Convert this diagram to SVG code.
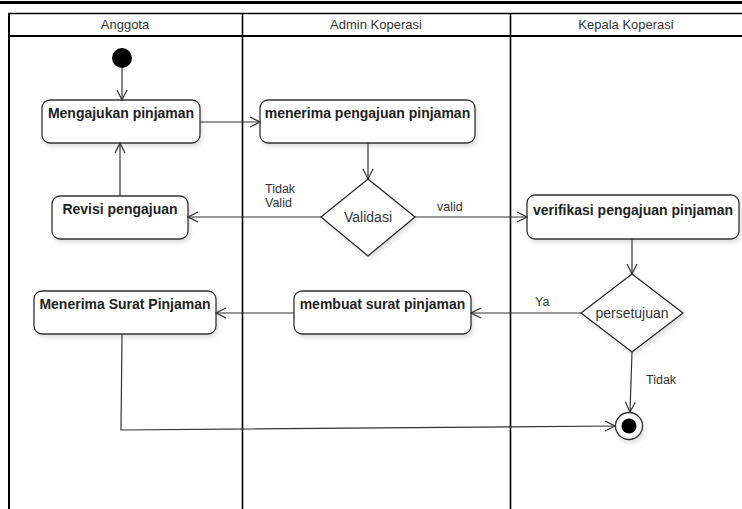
<svg xmlns="http://www.w3.org/2000/svg" width="742" height="509" viewBox="0 0 742 509">
<style>
.lane{stroke:#000;stroke-width:1.6;fill:none}
.hdr{font-family:"Liberation Sans",Arial,sans-serif;font-size:13px;fill:#333;text-anchor:middle}
.box{fill:#fff;stroke:#333;stroke-width:1.3;filter:url(#sh)}
.bt{font-family:"Liberation Sans",Arial,sans-serif;font-size:14px;font-weight:bold;fill:#222;text-anchor:middle}
.dia{fill:#fff;stroke:#222;stroke-width:1.2;filter:url(#sh)}
.dt{font-family:"Liberation Sans",Arial,sans-serif;font-size:14px;fill:#333;text-anchor:middle}
.lbl{font-family:"Liberation Sans",Arial,sans-serif;font-size:12.5px;fill:#333}
.con{stroke:#333;stroke-width:1.2;fill:none;marker-end:url(#ar)}
</style>
<defs>
<filter id="sh" x="-20%" y="-20%" width="150%" height="160%">
<feDropShadow dx="2" dy="3" stdDeviation="2" flood-color="#000" flood-opacity="0.12"/>
</filter>
<marker id="ar" viewBox="0 0 12 12" refX="11" refY="6" markerWidth="12" markerHeight="12" markerUnits="userSpaceOnUse" orient="auto">
<path d="M1,1 L11,6 L1,11" fill="none" stroke="#333" stroke-width="1.2"/>
</marker>
</defs>
<rect width="742" height="509" fill="#fff"/>
<g id="frame">
<line x1="0" y1="2.5" x2="742" y2="2.5" stroke="#000" stroke-width="3"/>
<line x1="8" y1="13.5" x2="742" y2="13.5" stroke="#000" stroke-width="1.5"/>
<line x1="8" y1="36" x2="742" y2="36" stroke="#000" stroke-width="2"/>
<line x1="9" y1="13" x2="9" y2="509" stroke="#000" stroke-width="2"/>
<line class="lane" x1="242.5" y1="13" x2="242.5" y2="509"/>
<line class="lane" x1="510.5" y1="13" x2="510.5" y2="509"/>
<text class="hdr" x="125" y="29">Anggota</text>
<text class="hdr" x="376" y="29">Admin Koperasi</text>
<text class="hdr" x="626" y="29">Kepala Koperasi</text>
</g>
<g id="start"><circle cx="122" cy="58" r="10" fill="#000"/></g>
<g id="mengajukan"><rect class="box" x="42" y="100" width="158" height="43" rx="8"/><text class="bt" x="121" y="118">Mengajukan pinjaman</text></g>
<g id="revisi"><rect class="box" x="52" y="196" width="136" height="43" rx="8"/><text class="bt" x="120" y="214">Revisi pengajuan</text></g>
<g id="menerima"><rect class="box" x="260" y="100" width="215" height="43" rx="8"/><text class="bt" x="367.5" y="118">menerima pengajuan pinjaman</text></g>
<g id="validasi"><polygon class="dia" points="368,179 415,217 368,256 321,217"/><text class="dt" x="368" y="222">Validasi</text></g>
<g id="verifikasi"><rect class="box" x="527" y="195" width="212" height="44" rx="8"/><text class="bt" x="633" y="215">verifikasi pengajuan pinjaman</text></g>
<g id="persetujuan"><polygon class="dia" points="632,274 683,313 632,352 581,313"/><text class="dt" x="632" y="318">persetujuan</text></g>
<g id="membuat"><rect class="box" x="294" y="291" width="177" height="43" rx="8"/><text class="bt" x="382.5" y="309">membuat surat pinjaman</text></g>
<g id="menerimasurat"><rect class="box" x="34" y="291" width="182" height="43" rx="8"/><text class="bt" x="125" y="309">Menerima Surat Pinjaman</text></g>
<g id="end"><circle cx="629" cy="426" r="13.5" fill="#fff" stroke="#333" stroke-width="1.3" filter="url(#sh)"/><circle cx="629" cy="426" r="7.5" fill="#000"/></g>
<g id="connectors">
<path class="con" d="M122,68 L122,100"/>
<path class="con" d="M200,122 L260,122"/>
<path class="con" d="M120,196 L120,143"/>
<path class="con" d="M368,143 L368,179"/>
<path class="con" d="M321,217 L188,217"/>
<path class="con" d="M415,217 L527,217"/>
<path class="con" d="M632,239 L632,274"/>
<path class="con" d="M581,313 L471,313"/>
<path class="con" d="M294,313 L216,313"/>
<path class="con" d="M632,352 L630,412"/>
<path class="con" d="M122,334 L121,430 L615,426"/>
<text class="lbl" x="265" y="193">Tidak</text>
<text class="lbl" x="265" y="207">Valid</text>
<text class="lbl" x="437" y="211">valid</text>
<text class="lbl" x="535" y="306">Ya</text>
<text class="lbl" x="646" y="384">Tidak</text>
</g>
</svg>
